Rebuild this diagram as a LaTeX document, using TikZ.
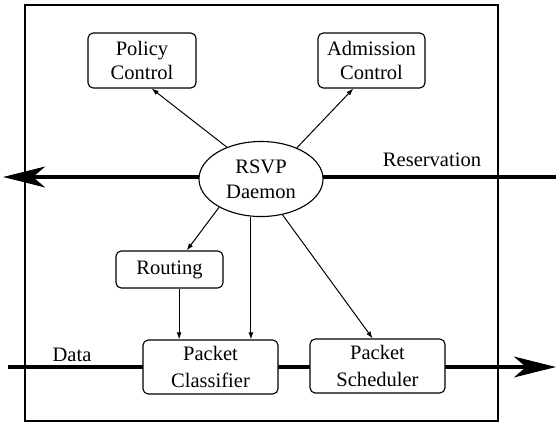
\documentclass[tikz,border=0pt]{standalone}
\usepackage{fontspec}
\setmainfont{Liberation Serif}
\usetikzlibrary{shapes.geometric,arrows.meta}

\begin{document}
\begin{tikzpicture}[x=0.025cm,y=-0.025cm,
                    font=\rmfamily\fontsize{14.6}{16.5}\selectfont,
                    modbox/.style={draw, rounded corners=0.13cm, fill=white,
                                   line width=0.8pt, align=center, inner sep=0pt},
                    thinarr/.style={line width=0.7pt, -{Latex[length=5pt,width=3.5pt]}},
                    flow/.style={line width=2.2pt, -{Stealth[length=1.05cm,width=0.52cm,inset=0.3cm]}},
                    plain/.style={inner sep=1pt}]
  \useasboundingbox (0,0) rectangle (556,424);

  % frame of the router
  \draw[line width=0.8pt] (25,5) rectangle (498,421);

  % reservation and data paths
  \coordinate (resR) at (556,177);
  \coordinate (resL) at (3,177);
  \coordinate (dataL) at (8,367);
  \coordinate (dataR) at (556,367);
  \draw[flow] (resR) -- (resL);
  \draw[flow] (dataL) -- (dataR);

  \node[draw, ellipse, fill=white, line width=0.8pt, inner sep=0pt,
        minimum width=3.1cm, minimum height=1.875cm, align=center]
        (rsvp) at (261,179) {RSVP\\[1pt] Daemon};

  \node[modbox, minimum width=2.7cm, minimum height=1.375cm]
        (policy) at (142,60.5) {Policy\\ Control};
  \node[modbox, minimum width=2.675cm, minimum height=1.375cm]
        (admit) at (371.5,60.5) {Admission\\ Control};
  \node[modbox, minimum width=2.675cm, minimum height=0.925cm]
        (routing) at (169.5,269.5) {Routing};
  \node[modbox, minimum width=3.375cm, minimum height=1.35cm]
        (classif) at (210.5,367) {Packet\\[3pt] Classifier};
  \node[modbox, minimum width=3.375cm, minimum height=1.35cm]
        (sched) at (377.5,366) {Packet\\[3pt] Scheduler};

  \node[plain] (reslab) at (432,160) {Reservation};
  \node[plain] (datalab) at (72,355) {Data};

  \draw[thinarr] (rsvp.137) -- (policy.289);
  \draw[thinarr] (rsvp.41) -- (admit.237);
  \draw[thinarr] (rsvp.214) -- (routing.48);
  \draw[thinarr] (rsvp.255) -- (rsvp.255 |- classif.north);
  \draw[thinarr] (rsvp.301) -- (sched.100);
  \draw[thinarr] ([xshift=0.24cm]routing.south) -- ([xshift=0.24cm]routing.south |- classif.north);
\end{tikzpicture}
\end{document}
